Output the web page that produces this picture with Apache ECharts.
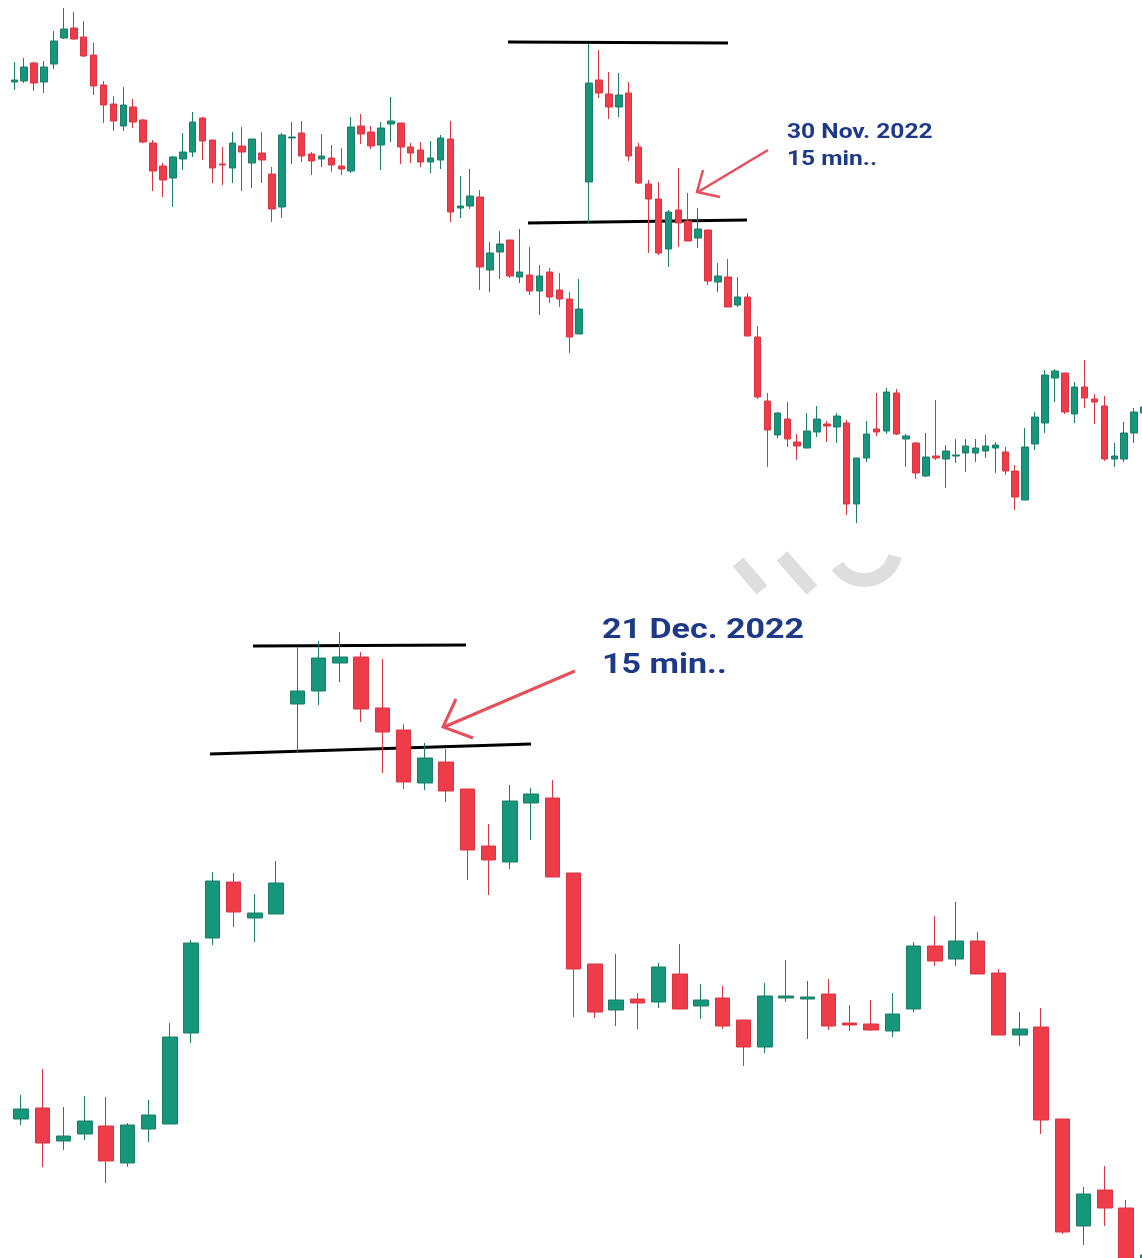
<!DOCTYPE html>
<html>
<head>
<meta charset="utf-8">
<script src="https://cdn.jsdelivr.net/npm/echarts@6/dist/echarts.min.js"></script>
<style>
html,body{margin:0;padding:0;background:#fff;}
#chart{width:1142px;height:1258px;}
</style>
</head>
<body>
<div id="chart"></div>
<script>
// ---- Top chart: 30 Nov 2022, 15 min candles [open, close, low, high]
var topCandles = [
[518,520,510,538],[519,533,517,542],[537,517,509,538],[518,533,507,539],[536,559,531,569],
[562,571,561,592],[572,561,560,588],[563,544,543,579],[545,514,505,557],[515,495,477,519],
[496,479,469,504],[474,495,469,513],[493,478,472,501],[480,458,457,481],[457,429,409,460],
[434,420,403,437],[422,443,393,444],[441,448,430,467],[448,478,443,488],[482,459,440,483],
[460,432,417,460],[436,435,415,453],[432,457,417,468],[454,448,409,473],[437,461,412,461],
[447,440,417,468],[426,391,378,433],[393,465,382,467],[462,463,436,478],[467,444,438,479],
[446,439,425,448],[441,444,433,466],[442,435,428,455],[434,431,425,452],[429,473,427,483],
[474,466,456,486],[468,454,451,474],[455,472,430,478],[476,479,458,503],[477,453,436,477],
[453,447,437,457],[450,438,433,458],[438,442,427,459],[440,462,431,465],[461,388,378,479],
[392,394,382,424],[394,404,391,431],[403,333,310,410],[330,347,308,358],[348,356,321,369],
[360,324,322,360],[323,328,317,371],[325,309,305,353],[309,324,285,335],[328,303,297,332],
[310,301,293,327],[301,263,247,308],[266,291,266,321],[418,517,377,556],[520,507,502,550],
[506,493,481,528],[493,505,483,527],[507,444,439,518],[453,417,416,457],[416,401,347,420],
[401,347,345,418],[351,388,333,390],[390,377,353,432],[379,359,359,407],[362,371,352,392],
[370,319,315,370],[318,324,308,337],[323,293,293,341],[295,303,293,323],[303,264,264,307],
[263,203,201,274],[199,170,133,207],[165,187,162,188],[181,161,153,198],[158,154,140,166],
[152,169,152,187],[168,181,163,194],[176,174,158,179],[173,184,157,187],[177,96,85,180],
[96,142,77,142],[142,166,138,179],[171,168,164,207],[169,208,166,212],[207,166,165,211],
[161,164,133,166],[157,127,121,158],[124,143,123,167],[144,142,140,200],[141,149,112,155],
[144,145,137,161],[147,154,128,161],[147,152,138,161],[149,154,142,165],[152,155,127,158],
[148,129,125,153],[129,103,90,135],[100,153,100,172],[156,183,150,188],[177,225,167,230],
[222,229,198,231],[227,188,186,227],[186,213,177,218],[213,202,192,240],[201,198,176,206],
[194,141,139,204],[141,144,133,157],[141,167,138,178],[167,188,157,192],[187,193,180,196]
];
// ---- Bottom chart: 21 Dec 2022, 15 min candles [open, close, low, high]
var bottomCandles = [
[181,191,175,205],[192,157,133,231],[159,164,150,193],[166,179,160,204],[174,139,117,203],
[137,175,133,177],[171,185,158,200],[176,263,176,277],[267,357,257,360],[362,419,355,428],
[418,388,373,427],[382,387,358,406],[386,417,386,439],[596,609,547,653],[609,642,595,659],
[637,643,618,668],[643,591,578,648],[592,568,527,641],[570,518,511,576],[517,542,510,557],
[538,509,498,551],[511,450,420,511],[454,440,405,476],[438,499,431,515],[497,506,460,512],
[502,423,423,520],[427,331,283,427],[336,288,282,336],[290,300,274,346],[301,297,271,307],
[298,333,292,337],[326,291,291,356],[294,300,281,316],[302,274,271,314],[280,253,234,280],
[253,304,247,317],[302,304,298,340],[301,303,261,319],[306,274,270,321],[277,275,269,295],
[276,270,269,300],[269,286,263,307],[291,354,288,358],[354,339,334,384],[341,359,334,398],
[359,326,326,368],[327,265,265,331],[265,271,254,288],[273,180,166,292],[181,68,66,181],
[74,106,55,113],[110,92,74,134],[92,25,20,100],[30,45,20,50]
];
var topCats = topCandles.map(function(d,i){return 'T'+i;}).concat(['T115']);
var bottomCats = bottomCandles.map(function(d,i){return 'B'+i;});

var UP = '#16977b', DOWN = '#ef3c4b', UPB = '#1b7d67', DOWNB = '#d93541';
var NAVY = '#1d3987', ARROW = '#e5505b';

var chart = echarts.init(document.getElementById('chart'), null, {renderer:'canvas'});
var option = {
  animation: false,
  backgroundColor: '#ffffff',
  grid: [
    {left: 9.35, top: 0, width: 116*9.91, height: 530, outerBoundsMode:'none', containLabel:false},
    {left: 10.375, top: 580, width: 54*21.25, height: 678, outerBoundsMode:'none', containLabel:false}
  ],
  xAxis: [
    {type:'category', gridIndex:0, data: topCats, show:false, boundaryGap:true},
    {type:'category', gridIndex:1, data: bottomCats, show:false, boundaryGap:true}
  ],
  yAxis: [
    {type:'value', gridIndex:0, min:70, max:600, show:false, splitLine:{show:false}},
    {type:'value', gridIndex:1, min:42, max:720, show:false, splitLine:{show:false}}
  ],
  series: [
    {type:'candlestick', xAxisIndex:0, yAxisIndex:0, data: topCandles, barWidth: 7, clip:true,
     itemStyle:{color:UP, color0:DOWN, borderColor:UPB, borderColor0:DOWNB, borderWidth:1}},
    {type:'candlestick', xAxisIndex:1, yAxisIndex:1, data: bottomCandles, barWidth: 15, clip:true,
     itemStyle:{color:UP, color0:DOWN, borderColor:UPB, borderColor0:DOWNB, borderWidth:1}}
  ],
  graphic: [
    // watermark fragments
    {type:'line', shape:{x1:738,y1:562,x2:762,y2:590}, style:{stroke:'#dedede', lineWidth:14, lineCap:'butt'}, z:-1},
    {type:'line', shape:{x1:782,y1:556,x2:812,y2:590}, style:{stroke:'#dedede', lineWidth:14, lineCap:'butt'}, z:-1},
    {type:'arc', shape:{cx:864, cy:548, r:32, startAngle:0.25, endAngle:2.55, clockwise:true}, style:{stroke:'#dedede', fill:null, lineWidth:14}, z:-1},
    // top levels
    {type:'line', shape:{x1:508,y1:42,x2:728,y2:43}, style:{stroke:'#000', lineWidth:3}},
    {type:'line', shape:{x1:528,y1:223,x2:747,y2:220}, style:{stroke:'#000', lineWidth:3}},
    // top arrow
    {type:'line', shape:{x1:768,y1:150,x2:698,y2:192}, style:{stroke:ARROW, lineWidth:2.5}},
    {type:'polyline', shape:{points:[[703,170],[697,192],[720,197]]}, style:{stroke:ARROW, fill:null, lineWidth:2.5}},
    {type:'text', x:787, y:132.5, scaleX:1.17, style:{text:'30 Nov. 2022', font:'bold 21px Roboto', fill:NAVY, textVerticalAlign:'middle'}},
    {type:'text', x:787, y:160, scaleX:1.17, style:{text:'15 min..', font:'bold 21px Roboto', fill:NAVY, textVerticalAlign:'middle'}},
    // bottom levels
    {type:'line', shape:{x1:253,y1:646,x2:466,y2:645}, style:{stroke:'#000', lineWidth:3}},
    {type:'line', shape:{x1:210,y1:754,x2:531,y2:744}, style:{stroke:'#000', lineWidth:3}},
    // bottom arrow
    {type:'line', shape:{x1:575,y1:671,x2:444,y2:727}, style:{stroke:ARROW, lineWidth:3}},
    {type:'polyline', shape:{points:[[456,699],[443,727],[473,738]]}, style:{stroke:ARROW, fill:null, lineWidth:3}},
    {type:'text', x:602, y:631.5, scaleX:1.26, style:{text:'21 Dec. 2022', font:'bold 27px Roboto', fill:NAVY, textVerticalAlign:'middle'}},
    {type:'text', x:602, y:666.5, scaleX:1.26, style:{text:'15 min..', font:'bold 27px Roboto', fill:NAVY, textVerticalAlign:'middle'}}
  ]
};
chart.setOption(option);
</script>
</body>
</html>
